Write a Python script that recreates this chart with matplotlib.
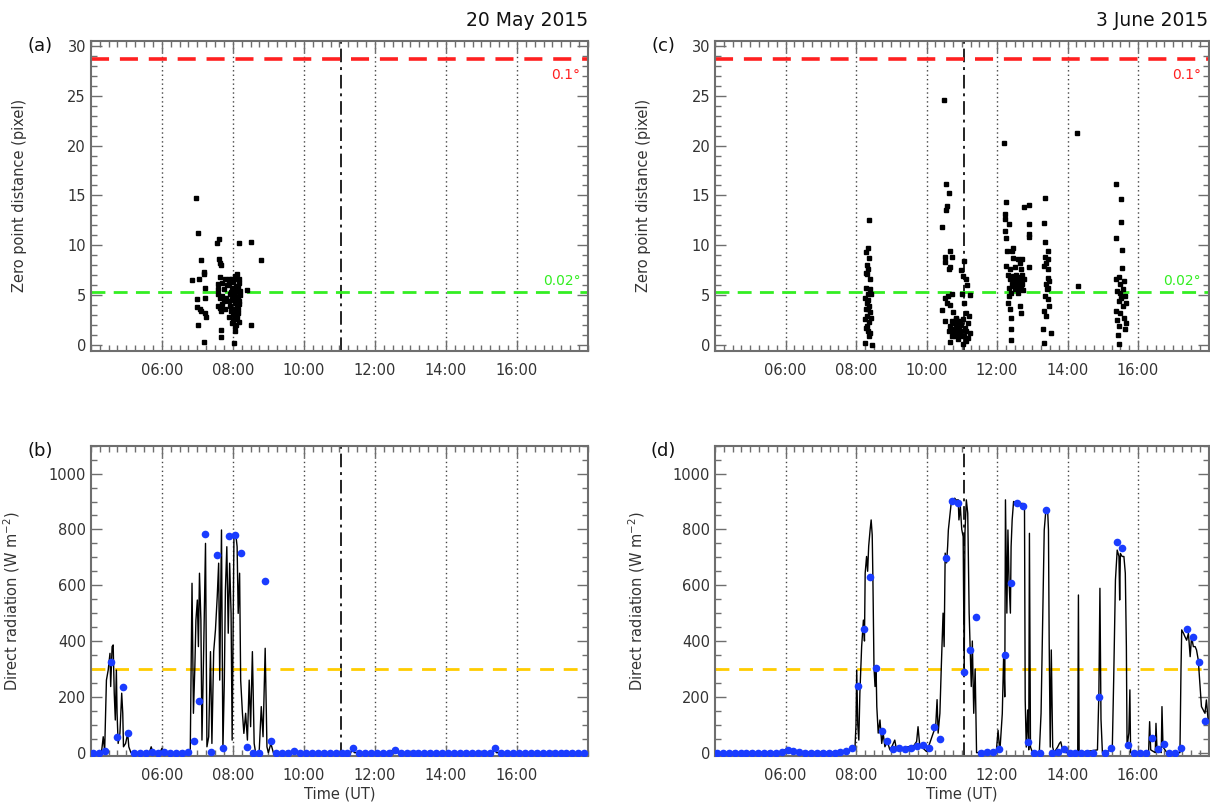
import matplotlib
matplotlib.use("Agg")
import matplotlib.pyplot as plt
from matplotlib.ticker import MultipleLocator, FixedLocator, FuncFormatter

plt.rcParams['font.family'] = ['DejaVu Sans']

# ---------------- data ----------------
# Panel (a): zero point distance, 20 May 2015 (time in hours UT, distance in pixel)
a_time = [6.96, 7.01, 7.09, 7.19, 7.19, 6.84, 7.05, 7.21, 6.99, 7.22, 6.99, 7.07, 7.10, 7.21,
          7.23, 7.01, 7.20, 7.56, 7.62, 7.61, 7.64, 7.67, 7.64, 7.57, 7.59, 7.69, 7.58, 7.64,
          7.69, 7.59, 7.64, 7.67, 7.69, 7.67, 7.67, 7.78, 7.88, 7.84, 7.90, 8.06, 8.12, 8.18,
          8.11, 8.18, 7.97, 8.05, 8.11, 8.02, 8.09, 8.14, 8.18, 7.97, 8.05, 8.11, 8.18, 7.92,
          8.02, 8.09, 8.14, 8.00, 8.07, 8.13, 8.16, 7.89, 7.97, 8.03, 8.14, 8.05, 8.21, 7.92,
          7.88, 7.80, 8.03, 8.41, 8.52, 8.17, 8.51, 8.80, 8.00, 8.06, 7.95, 8.10, 8.19, 7.98,
          7.76, 7.74, 7.79, 8.01, 8.08, 8.15, 7.94, 8.04, 8.12, 7.99, 8.07]
a_dist = [14.7, 11.2, 8.5, 7.3, 7.1, 6.5, 6.6, 5.7, 4.6, 4.7, 3.8, 3.6, 3.4, 3.2,
          2.8, 2.0, 0.3, 10.2, 10.6, 8.6, 8.2, 8.0, 6.8, 6.1, 5.6, 6.2, 5.1, 4.7,
          4.9, 3.9, 3.7, 3.4, 4.1, 1.5, 0.8, 6.6, 6.6, 6.0, 6.2, 6.9, 6.6, 6.6,
          7.1, 6.2, 5.7, 5.6, 5.4, 5.1, 4.8, 4.6, 4.4, 4.6, 4.2, 4.0, 4.1, 3.9,
          3.6, 3.3, 3.6, 3.1, 2.8, 2.6, 2.3, 2.8, 2.2, 2.6, 3.2, 1.9, 5.4, 5.1,
          4.4, 4.7, 0.2, 5.5, 2.0, 10.2, 10.3, 8.5, 5.4, 4.9, 3.4, 2.0, 5.0, 6.6,
          5.6, 4.4, 3.6, 6.3, 5.9, 5.8, 5.3, 4.5, 3.0, 2.5, 1.4]

# Panel (c): zero point distance, 3 June 2015
c_time = [8.38, 8.33, 8.28, 8.37, 8.30, 8.35, 8.28, 8.32, 8.40, 8.42, 8.25, 8.35, 8.30, 8.38,
          8.28, 8.40, 8.32, 8.25, 8.38, 8.30, 8.35, 8.40, 8.25, 8.44, 8.33, 8.40, 8.28, 8.35,
          8.42, 8.28, 8.36,
          10.49, 10.56, 10.63, 10.58, 10.54, 10.43, 10.68, 10.53, 10.71, 10.52, 10.63, 10.68,
          10.99, 11.06, 11.04, 11.11, 11.15, 11.23, 11.01, 10.52, 10.61, 10.71, 10.57, 10.68,
          10.45, 10.74, 10.52, 11.06, 11.13, 11.21, 11.04, 10.66, 10.71, 10.77, 10.85, 10.92,
          10.81, 10.87, 10.94, 10.74, 10.83, 10.90, 10.99, 11.08, 11.13, 11.18, 11.23, 11.06,
          10.97, 10.80, 10.75, 10.90, 11.11, 11.04, 11.18, 10.68, 10.64, 10.85, 10.94, 10.71,
          12.19, 12.26, 12.24, 12.22, 12.34, 12.24, 12.26, 12.78, 12.92, 12.92, 12.90, 12.90,
          12.45, 12.28, 12.43, 12.45, 12.59, 12.71, 12.64, 12.26, 12.36, 12.50, 12.92, 12.68,
          12.31, 12.45, 12.59, 12.71, 12.38, 12.52, 12.66, 12.78, 12.43, 12.56, 12.71, 12.33,
          12.50, 12.64, 12.75, 12.41, 12.59, 12.33, 12.31, 12.36, 12.41, 12.64, 12.69, 12.41,
          12.41, 12.47, 12.55, 12.62, 12.69, 12.47, 12.55,
          13.37, 13.32, 13.37, 13.44, 13.37, 13.46, 13.40, 13.34, 13.46, 13.44, 13.39, 13.46,
          13.37, 13.44, 13.48, 13.34, 13.39, 13.31, 13.53, 13.34, 13.41, 13.48,
          14.27, 14.30,
          15.38, 15.53, 15.53, 15.38, 15.55, 15.55, 15.46, 15.38, 15.60, 15.50, 15.57, 15.41,
          15.62, 15.53, 15.46, 15.65, 15.38, 15.50, 15.60, 15.41, 15.65, 15.46, 15.62, 15.44,
          15.47, 15.58, 15.50]
c_dist = [12.5, 9.7, 9.3, 8.7, 8.0, 7.6, 7.2, 7.1, 6.6, 5.1, 4.7, 4.5, 4.2, 3.9,
          3.6, 3.3, 2.9, 2.6, 2.3, 1.9, 1.4, 1.2, 0.2, 0.0, 5.1, 5.6, 5.7, 3.6,
          2.7, 1.7, 0.9,
          24.6, 16.1, 15.2, 13.9, 13.5, 11.8, 9.4, 8.8, 8.8, 8.3, 7.6, 7.8,
          7.5, 8.4, 6.9, 6.6, 6.0, 5.0, 5.1, 4.7, 4.9, 5.1, 4.2, 4.0,
          3.5, 3.3, 2.4, 4.2, 3.2, 2.9, 2.6, 0.3, 2.4, 2.2, 1.9, 1.7,
          1.4, 1.2, 0.9, 1.6, 2.6, 2.2, 2.0, 1.7, 1.4, 2.2, 1.2, 0.9,
          1.4, 0.9, 1.1, 0.6, 0.4, 0.1, 0.7, 1.9, 1.4, 2.7, 2.4, 0.9,
          20.3, 14.3, 13.1, 12.6, 12.1, 11.4, 10.7, 13.8, 14.0, 12.1, 11.1, 10.8,
          9.7, 9.4, 9.4, 8.7, 8.6, 8.6, 8.2, 7.9, 7.6, 7.8, 7.8, 7.6,
          7.0, 6.9, 6.8, 7.0, 6.6, 6.4, 6.5, 6.6, 6.1, 5.9, 6.1, 5.7,
          5.6, 5.6, 5.5, 5.2, 5.2, 4.9, 4.2, 3.6, 2.7, 3.9, 3.2, 1.6,
          0.5, 6.6, 7.0, 6.2, 5.9, 5.9, 6.2,
          14.7, 12.2, 10.3, 9.4, 8.8, 8.6, 8.2, 7.9, 7.6, 6.7, 6.1, 5.7,
          4.9, 4.6, 3.9, 3.4, 2.9, 1.6, 1.2, 0.2, 5.6, 6.4,
          21.3, 5.9,
          16.1, 14.6, 12.3, 10.7, 9.5, 7.7, 6.8, 6.6, 6.4, 6.1, 5.6, 5.4,
          4.9, 4.7, 4.4, 4.2, 3.4, 3.2, 2.7, 2.5, 2.2, 1.9, 1.6, 1.0,
          0.1, 3.9, 5.2]

# Panel (b): direct radiation, 20 May 2015 (W m-2)
b_time = [4.00, 4.30, 4.35, 4.39, 4.44, 4.49, 4.54, 4.56, 4.60, 4.63, 4.66, 4.69, 4.72, 4.74,
          4.77, 4.82, 4.87, 4.90, 4.92, 4.98, 5.04, 5.07, 5.13, 5.65, 5.70, 5.75, 5.95, 6.00,
          6.05, 6.80, 6.85, 6.89, 6.93, 6.96, 7.00, 7.03, 7.06, 7.10, 7.13, 7.18, 7.23, 7.27,
          7.32, 7.37, 7.41, 7.46, 7.51, 7.56, 7.60, 7.63, 7.68, 7.72, 7.76, 7.79, 7.83, 7.87,
          7.91, 7.95, 7.98, 8.03, 8.08, 8.12, 8.15, 8.19, 8.22, 8.27, 8.31, 8.36, 8.41, 8.46,
          8.50, 8.55, 8.60, 8.64, 8.74, 8.80, 8.85, 8.91, 8.96, 9.00, 9.07, 9.14, 9.65, 9.69,
          9.73, 11.32, 11.37, 11.42, 12.40, 12.45, 12.50, 12.55, 12.60, 15.32, 15.37, 15.42,
          18.00]
b_rad = [0, 0, 57, 5, 260, 296, 356, 237, 380, 386, 213, 117, 296, 141,
         33, 69, 213, 141, 21, 33, 69, 21, 0, 0, 21, 0, 0, 15,
         0, 0, 607, 141, 308, 475, 547, 380, 643, 475, 45, 380, 750, 21,
         57, 362, 33, 362, 440, 559, 679, 260, 798, 10, 260, 583, 738, 428,
         679, 499, 45, 768, 786, 738, 499, 643, 260, 141, 69, 141, 45, 260,
         93, 362, 33, 0, 0, 165, 57, 374, 21, 0, 33, 0, 0, 5,
         0, 0, 15, 0, 0, 8, 0, 10, 0, 0, 15, 0,
         0]

# Panel (d): direct radiation, 3 June 2015
d_time = [4.00, 5.90, 6.00, 6.10, 6.30, 7.50, 7.85, 7.97, 8.00, 8.02, 8.05, 8.08, 8.11, 8.16,
          8.21, 8.24, 8.26, 8.30, 8.33, 8.36, 8.40, 8.43, 8.46, 8.48, 8.51, 8.54, 8.57, 8.59,
          8.63, 8.68, 8.73, 8.77, 8.82, 8.89, 8.96, 9.03, 9.10, 9.15, 9.25, 9.34, 9.43, 9.53,
          9.64, 9.72, 9.76, 9.81, 9.91, 10.00, 10.09, 10.19, 10.26, 10.30, 10.33, 10.38, 10.42,
          10.47, 10.50, 10.53, 10.57, 10.60, 10.62, 10.66, 10.71, 10.75, 10.80, 10.84, 10.90,
          10.92, 10.96, 11.00, 11.04, 11.07, 11.09, 11.13, 11.17, 11.21, 11.25, 11.27, 11.30,
          11.34, 11.38, 11.42, 11.98, 12.03, 12.08, 12.15, 12.19, 12.22, 12.24, 12.28, 12.31,
          12.34, 12.38, 12.40, 12.43, 12.47, 12.54, 12.64, 12.73, 12.78, 12.80, 12.83, 12.87,
          12.90, 12.92, 12.95, 13.01, 13.20, 13.25, 13.30, 13.34, 13.39, 13.44, 13.46, 13.48,
          13.51, 13.54, 13.58, 13.62, 13.72, 13.77, 13.81, 13.86, 13.95, 14.29, 14.31, 14.33,
          14.85, 14.89, 14.92, 14.95, 14.99, 15.27, 15.31, 15.36, 15.41, 15.46, 15.48, 15.50,
          15.55, 15.60, 15.64, 15.67, 15.69, 15.74, 15.77, 15.79, 16.30, 16.33, 16.36, 16.49,
          16.51, 16.54, 16.66, 16.68, 16.71, 16.82, 17.19, 17.22, 17.24, 17.29, 17.33, 17.38,
          17.43, 17.48, 17.52, 17.57, 17.62, 17.66, 17.71, 17.76, 17.80, 17.85, 17.90, 17.94,
          17.99]
d_rad = [0, 2, 12, 8, 2, 2, 10, 15, 100, 296, 100, 45, 213, 380,
         475, 400, 643, 703, 650, 740, 798, 834, 780, 619, 308, 237, 300, 165,
         70, 117, 33, 70, 21, 40, 10, 25, 45, 10, 20, 15, 20, 22,
         25, 40, 93, 22, 15, 4, 33, 70, 93, 190, 70, 141, 308,
         500, 380, 715, 680, 740, 798, 846, 906, 900, 912, 905, 906,
         834, 882, 800, 774, 284, 786, 906, 858, 500, 332, 237, 400,
         141, 300, 0, 3, 80, 2, 140, 357, 200, 906, 500, 798,
         619, 500, 738, 834, 900, 896, 893, 893, 880, 189, 20, 153,
         10, 786, 20, 0, 0, 141, 500, 798, 875, 858, 798, 400,
         20, 368, 20, 0, 20, 33, 39, 10, 0, 0, 565, 0,
         10, 213, 589, 120, 0, 10, 260, 619, 726, 703, 547, 714,
         703, 703, 643, 380, 20, 70, 225, 0, 0, 111, 10, 0,
         105, 10, 0, 165, 20, 0, 0, 300, 440, 428, 416, 403,
         428, 344, 415, 380, 380, 368, 332, 237, 165, 153, 141, 189,
         117]

# 10-minute samples (blue dots)
dot_time = [4.06 + k / 6.0 for k in range(84)]
b_dots = [0, 0, 5, 326, 57, 236, 69, 0, 0, 0, 3, 0, 3, 0, 0, 0, 3, 40, 186, 784,
          3, 707, 18, 777, 780, 717, 21, 0, 0, 614, 40, 0, 0, 0, 5, 0, 0, 0, 0, 0,
          0, 0, 0, 0, 15, 0, 0, 0, 0, 0, 0, 8, 0, 0, 0, 0, 0, 0, 0, 0,
          0, 0, 0, 0, 0, 0, 0, 0, 15, 0, 0, 0, 0, 0, 0, 0, 0, 0, 0, 0,
          0, 0, 0, 0]
d_dots = [0, 0, 0, 0, 0, 0, 0, 0, 0, 0, 0, 3, 10, 5, 2, 0, 0, 0, 0, 0,
          0, 2, 7, 15, 239, 443, 631, 305, 79, 43, 12, 18, 12, 18, 25, 27, 15, 93, 48, 698,
          903, 896, 288, 368, 487, 0, 2, 3, 12, 350, 607, 896, 884, 37, 0, 0, 870, 0, 2, 12,
          0, 0, 0, 0, 0, 200, 0, 15, 754, 734, 27, 0, 0, 0, 51, 12, 31, 0, 0, 15,
          443, 413, 326, 113]

noon_line = 11.05
hour_lines = [6, 8, 10, 12, 14, 16]
thr_01 = 28.7
thr_002 = 5.3
rad_thr = 300

# ---------------- figure ----------------
W, H = 1210, 807
fig = plt.figure(figsize=(W / 100, H / 100), dpi=100)

def rect(l, r, t, b):
    return [l / W, 1 - b / H, (r - l) / W, (b - t) / H]

ax_a = fig.add_axes(rect(90.8, 588, 40.7, 350.7))
ax_c = fig.add_axes(rect(715, 1208.5, 40.7, 350.7))
ax_b = fig.add_axes(rect(90.8, 588, 445.7, 756))
ax_d = fig.add_axes(rect(715, 1208.5, 445.7, 756))

axis_col = '#6e6e6e'
text_col = '#333333'

def fmt_time(x, pos):
    return f"{int(round(x)):02d}:00"

def style(ax, ylim, ymaj, ymin):
    ax.set_xlim(4, 18)
    ax.set_ylim(*ylim)
    ax.xaxis.set_major_locator(FixedLocator(hour_lines))
    ax.xaxis.set_minor_locator(MultipleLocator(0.25))
    ax.xaxis.set_major_formatter(FuncFormatter(fmt_time))
    ax.yaxis.set_major_locator(MultipleLocator(ymaj))
    ax.yaxis.set_minor_locator(MultipleLocator(ymin))
    ax.tick_params(which='both', direction='in', top=True, right=True,
                   color=axis_col, labelcolor=text_col, labelsize=10.5, width=1.0)
    ax.tick_params(which='major', length=8)
    ax.tick_params(which='minor', length=4)
    ax.tick_params(axis='x', pad=9)
    for s in ax.spines.values():
        s.set_color(axis_col)
        s.set_linewidth(1.5)
    for h in hour_lines:
        ax.axvline(h, color='#444444', linestyle=(0, (1, 2.2)), linewidth=1.0, zorder=1)
    ax.axvline(noon_line, color='#222222', linestyle=(0, (7, 2.5, 1.5, 2.5)), linewidth=1.4, zorder=1)

for ax, tt, dd, lx in ((ax_a, a_time, a_dist, -0.128), (ax_c, c_time, c_dist, -0.130)):
    style(ax, (-0.55, 30.5), 5, 1)
    ax.axhline(thr_01, color='#ff2020', linestyle=(0, (5, 3)), linewidth=2.6, zorder=2)
    ax.axhline(thr_002, color='#33ee22', linestyle=(0, (5, 3)), linewidth=2.0, zorder=2)
    ax.plot(tt, dd, linestyle='none', marker='s', markersize=2.6, color='black', zorder=3)
    ax.text(0.985, thr_01 - 0.9, '0.1°', transform=ax.get_yaxis_transform(),
            ha='right', va='top', color='#ff2020', fontsize=10)
    ax.text(0.985, thr_002 + 0.4, '0.02°', transform=ax.get_yaxis_transform(),
            ha='right', va='bottom', color='#33ee22', fontsize=10)
    ax.set_ylabel('Zero point distance (pixel)', color=text_col, fontsize=10.5)
    ax.yaxis.set_label_coords(lx, 0.5)

for ax, tt, vv, dots, lx in ((ax_b, b_time, b_rad, b_dots, -0.138), (ax_d, d_time, d_rad, d_dots, -0.138)):
    style(ax, (-12, 1100), 200, 50)
    ax.axhline(rad_thr, color='#ffcc00', linestyle=(0, (5, 3.5)), linewidth=2.0, zorder=2)
    ax.plot(tt, vv, color='black', linewidth=1.0, zorder=3)
    ax.plot(dot_time, dots, linestyle='none', marker='o', markersize=5.5,
            color='#1a3cff', markeredgewidth=0, zorder=4)
    ax.set_ylabel('Direct radiation (W m$^{-2}$)', color=text_col, fontsize=10.5)
    ax.yaxis.set_label_coords(lx, 0.5)
    ax.set_xlabel('Time (UT)', color=text_col, fontsize=10.5, labelpad=2)

# panel letters and titles
for lab, x, y in (('(a)', 40, 46), ('(b)', 40, 451), ('(c)', 663, 46), ('(d)', 663, 451)):
    fig.text(x / W, 1 - y / H, lab, ha='center', va='center', fontsize=13, color='#111111')
fig.text(588 / W, 1 - 21 / H, '20 May 2015', ha='right', va='center', fontsize=13.5, color='#111111')
fig.text(1208 / W, 1 - 21 / H, '3 June 2015', ha='right', va='center', fontsize=13.5, color='#111111')

fig.savefig('out.png', dpi=100)
